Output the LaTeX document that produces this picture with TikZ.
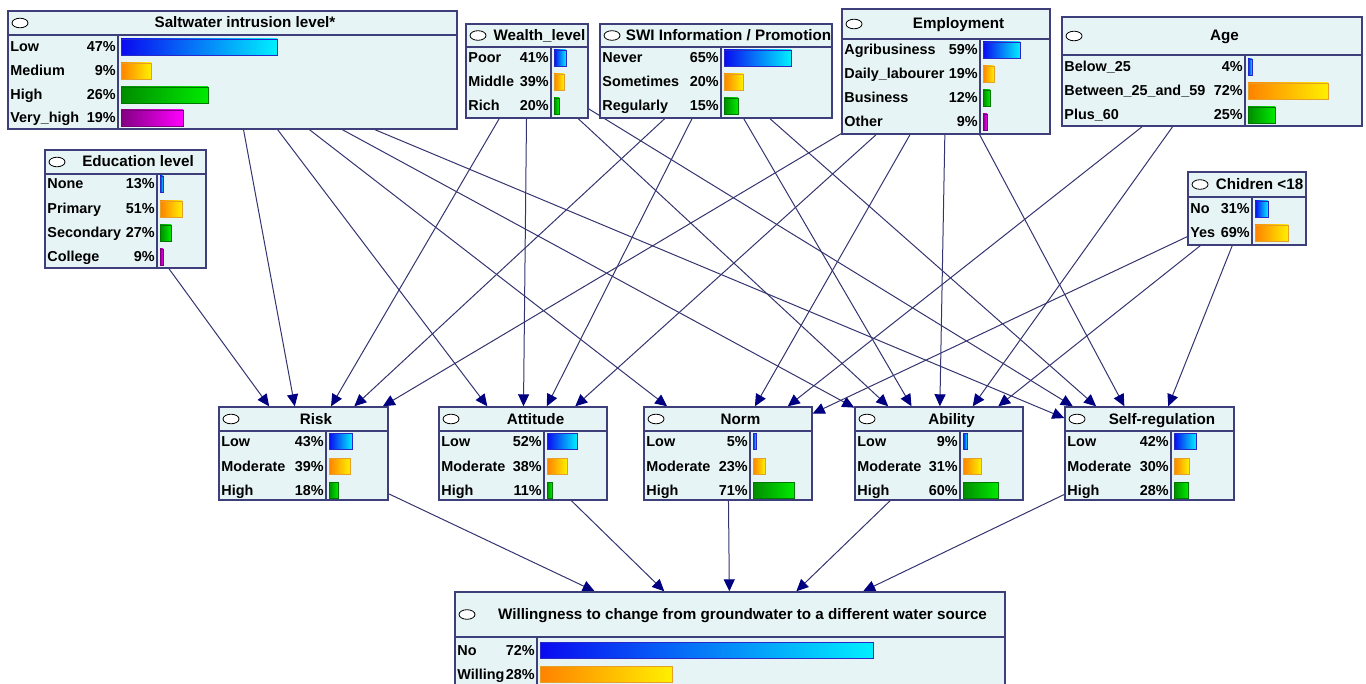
\documentclass[tikz,border=0pt]{standalone}
\usepackage{fontspec}
\setmainfont{Liberation Sans}
\usetikzlibrary{
    arrows.meta,
    fit,
    backgrounds
}

\definecolor{nodefill}{RGB}{231,244,245}
\definecolor{nodeline}{RGB}{62,62,122}
\definecolor{linkline}{RGB}{52,52,112}
\definecolor{linkhead}{RGB}{0,0,128}

\tikzset{
    netnode/.style={draw=nodeline, fill=nodefill, line width=0.7pt, inner sep=0pt},
    netline/.style={draw=nodeline, line width=0.7pt},
    hdrdot/.style={draw=black, fill=white, line width=0.4pt},
    titletext/.style={inner sep=0pt, anchor=base, font=\fontsize{7.6}{8}\selectfont\bfseries},
    statetext/.style={inner sep=0pt, anchor=base west, font=\fontsize{7.2}{8}\selectfont\bfseries},
    pcttext/.style={inner sep=0pt, anchor=base east, font=\fontsize{7.2}{8}\selectfont\bfseries},
    link/.style={draw=linkline, line width=0.5pt, -{Triangle[length=6pt, width=5.5pt, color=linkhead]}},
    barblue/.style={left color={rgb,255:red,10;green,10;blue,240}, right color={rgb,255:red,0;green,240;blue,255}, draw={rgb,255:red,40;green,40;blue,200}, line width=0.4pt},
    barorange/.style={left color={rgb,255:red,255;green,130;blue,0}, right color={rgb,255:red,255;green,240;blue,0}, draw={rgb,255:red,230;green,160;blue,40}, line width=0.4pt},
    bargreen/.style={left color={rgb,255:red,0;green,140;blue,0}, right color={rgb,255:red,0;green,235;blue,0}, draw={rgb,255:red,0;green,120;blue,0}, line width=0.4pt},
    barpurple/.style={left color={rgb,255:red,130;green,0;blue,130}, right color={rgb,255:red,255;green,0;blue,255}, draw={rgb,255:red,120;green,0;blue,120}, line width=0.4pt}
}

% box: name, left, top, right, bottom, header bottom, divider, title
\newcommand{\netbox}[8]{%
    \node[netnode, fit={(#2,#3) (#4,#5)}] (#1) {};
    \draw[netline] (#2,#6) -- (#4,#6);
    \draw[netline] (#7,#6) -- (#7,#5);
    \draw[hdrdot] ({#2+12},{(#3+#6)/2}) ellipse [x radius=4pt, y radius=2.4pt];
    \node[titletext] (#1-title) at ({(#2+25+#4)/2},{(#3+#6)/2+5}) {#8};
}
% state row: name, left, divider, y, state, percent, bar end, bar style
\newcommand{\netrow}[8]{%
    \node[statetext] (#1) at ({#2+2},{#4+5}) {#5};
    \node[pcttext] (#1-pct) at ({#3-2},{#4+5}) {#6\%};
    \path[#8] ({#3+3},{#4-8}) rectangle (#7,{#4+8});
}

\begin{document}
\begin{tikzpicture}[x=0.5pt, y=-0.5pt]
    \useasboundingbox (0,0) rectangle (1366,684);

    % parents
    \netbox{swl}{8}{11}{457}{129}{35}{118}{Saltwater intrusion level*}
    \netrow{swl-low}{8}{118}{47}{Low}{47}{277}{barblue}
    \netrow{swl-med}{8}{118}{71}{Medium}{9}{151}{barorange}
    \netrow{swl-high}{8}{118}{95}{High}{26}{208}{bargreen}
    \netrow{swl-vhigh}{8}{118}{118}{Very\_high}{19}{183}{barpurple}

    \netbox{wealth}{466}{24}{588}{118}{47}{551}{Wealth\_level}
    \netrow{wealth-poor}{466}{551}{58}{Poor}{41}{566}{barblue}
    \netrow{wealth-mid}{466}{551}{82}{Middle}{39}{564}{barorange}
    \netrow{wealth-rich}{466}{551}{106}{Rich}{20}{559}{bargreen}

    \netbox{swi}{600}{24}{832}{118}{47}{721}{SWI Information / Promotion}
    \netrow{swi-never}{600}{721}{58}{Never}{65}{791}{barblue}
    \netrow{swi-some}{600}{721}{82}{Sometimes}{20}{743}{barorange}
    \netrow{swi-reg}{600}{721}{106}{Regularly}{15}{738}{bargreen}

    \netbox{emp}{842}{9}{1050}{134}{39}{980}{Employment}
    \netrow{emp-agri}{842}{980}{50}{Agribusiness}{59}{1020}{barblue}
    \netrow{emp-daily}{842}{980}{74}{Daily\_labourer}{19}{994}{barorange}
    \netrow{emp-bus}{842}{980}{98}{Business}{12}{990}{bargreen}
    \netrow{emp-other}{842}{980}{122}{Other}{9}{987}{barpurple}

    \netbox{age}{1062}{17}{1362}{126}{55}{1245}{Age}
    \netrow{age-below}{1062}{1245}{67}{Below\_25}{4}{1252}{barblue}
    \netrow{age-mid}{1062}{1245}{91}{Between\_25\_and\_59}{72}{1328}{barorange}
    \netrow{age-plus}{1062}{1245}{115}{Plus\_60}{25}{1275}{bargreen}

    \netbox{edu}{45}{150}{206}{268}{174}{157}{Education level}
    \netrow{edu-none}{45}{157}{184}{None}{13}{163}{barblue}
    \netrow{edu-prim}{45}{157}{209}{Primary}{51}{182}{barorange}
    \netrow{edu-sec}{45}{157}{233}{Secondary}{27}{171}{bargreen}
    \netrow{edu-coll}{45}{157}{257}{College}{9}{163}{barpurple}

    \netbox{chi}{1188}{172}{1306}{245}{197}{1252}{Chidren <18}
    \netrow{chi-no}{1188}{1252}{209}{No}{31}{1268}{barblue}
    \netrow{chi-yes}{1188}{1252}{233}{Yes}{69}{1288}{barorange}

    % constructs
    \netbox{risk}{219}{407}{388}{500}{431}{326}{Risk}
    \netrow{risk-low}{219}{326}{441}{Low}{43}{352}{barblue}
    \netrow{risk-mod}{219}{326}{466}{Moderate}{39}{350}{barorange}
    \netrow{risk-high}{219}{326}{490}{High}{18}{338}{bargreen}

    \netbox{att}{439}{407}{607}{500}{431}{544}{Attitude}
    \netrow{att-low}{439}{544}{441}{Low}{52}{577}{barblue}
    \netrow{att-mod}{439}{544}{466}{Moderate}{38}{567}{barorange}
    \netrow{att-high}{439}{544}{490}{High}{11}{552}{bargreen}

    \netbox{norm}{644}{407}{812}{500}{431}{750}{Norm}
    \netrow{norm-low}{644}{750}{441}{Low}{5}{756}{barblue}
    \netrow{norm-mod}{644}{750}{466}{Moderate}{23}{765}{barorange}
    \netrow{norm-high}{644}{750}{490}{High}{71}{794}{bargreen}

    \netbox{abil}{855}{407}{1023}{500}{431}{960}{Ability}
    \netrow{abil-low}{855}{960}{441}{Low}{9}{967}{barblue}
    \netrow{abil-mod}{855}{960}{466}{Moderate}{31}{981}{barorange}
    \netrow{abil-high}{855}{960}{490}{High}{60}{998}{bargreen}

    \netbox{self}{1065}{407}{1234}{500}{431}{1171}{Self-regulation}
    \netrow{self-low}{1065}{1171}{441}{Low}{42}{1196}{barblue}
    \netrow{self-mod}{1065}{1171}{466}{Moderate}{30}{1189}{barorange}
    \netrow{self-high}{1065}{1171}{490}{High}{28}{1188}{bargreen}

    % outcome, runs off the bottom edge
    \netbox{will}{455}{592}{1005}{719}{637}{537}{Willingness to change from groundwater to a different water source}
    \netrow{will-no}{455}{537}{650}{No}{72}{873}{barblue}
    \netrow{will-yes}{455}{537}{674}{Willing}{28}{672}{barorange}

    \begin{scope}[on background layer]
        \draw
        (swl) edge[link] (risk)
        (swl) edge[link] (att)
        (swl) edge[link] (norm)
        (swl) edge[link] (abil)
        (swl) edge[link] (self)
        (edu) edge[link] (risk)
        (wealth) edge[link] (risk)
        (wealth) edge[link] (att)
        (wealth) edge[link] (abil)
        (wealth) edge[link] (self)
        (swi) edge[link] (risk)
        (swi) edge[link] (att)
        (swi) edge[link] (abil)
        (swi) edge[link] (self)
        (emp) edge[link] (risk)
        (emp) edge[link] (att)
        (emp) edge[link] (norm)
        (emp) edge[link] (abil)
        (emp) edge[link] (self)
        (age) edge[link] (norm)
        (age) edge[link] (abil)
        (chi) edge[link] (norm)
        (chi) edge[link] (abil)
        (chi) edge[link] (self)
        (risk) edge[link] (will)
        (att) edge[link] (will)
        (norm) edge[link] (will)
        (abil) edge[link] (will)
        (self) edge[link] (will);
    \end{scope}
\end{tikzpicture}
\end{document}
